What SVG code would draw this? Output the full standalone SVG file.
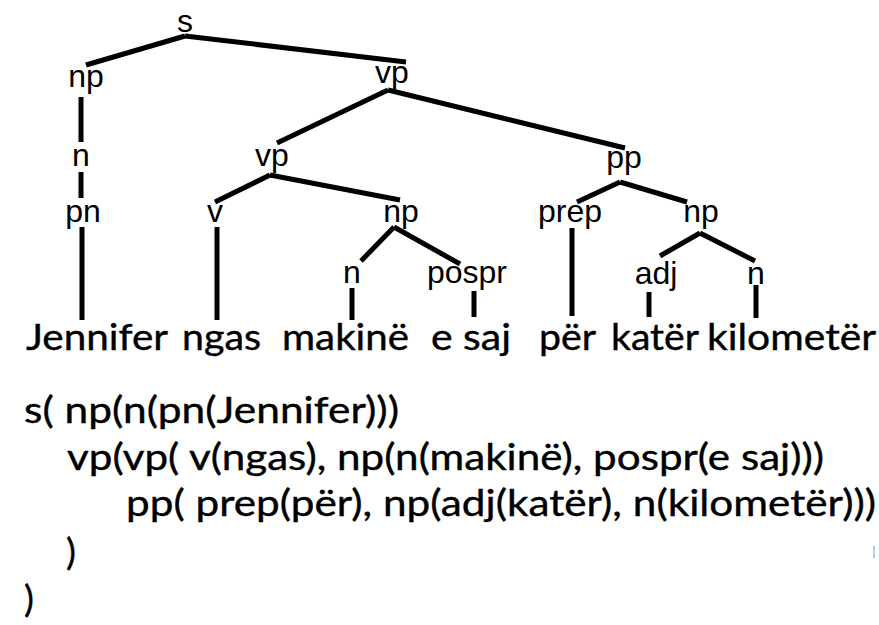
<svg xmlns="http://www.w3.org/2000/svg" width="879" height="625" viewBox="0 0 879 625">
  <style>
    .lbl { font-family: "Liberation Sans", Arial, sans-serif; font-size: 32px; fill: #000; text-anchor: middle; }
    .word { font-family: Lato, "Open Sans", sans-serif; font-size: 37px; fill: #000; stroke: #000; stroke-width: 0.4; }
    .code { font-family: Lato, "Open Sans", sans-serif; font-size: 37px; fill: #000; stroke: #000; stroke-width: 0.4; }
    .edge { stroke: #000; stroke-width: 5; fill: none; stroke-linecap: butt; }
  </style>
  <rect width="879" height="625" fill="#fff"/>

  <!-- tree edges -->
  <g id="connectors" class="edge">
    <line x1="185" y1="36" x2="86" y2="65"/>
    <line x1="185" y1="36" x2="406" y2="62"/>
    <line x1="388" y1="90" x2="277" y2="143"/>
    <line x1="388" y1="90" x2="625" y2="148"/>
    <line x1="81" y1="97" x2="81" y2="142"/>
    <line x1="81" y1="172" x2="81" y2="198"/>
    <line x1="270" y1="175" x2="215" y2="202"/>
    <line x1="270" y1="175" x2="400" y2="200"/>
    <line x1="82" y1="227" x2="82" y2="320"/>
    <line x1="217" y1="227" x2="217" y2="320"/>
    <line x1="394" y1="227" x2="361" y2="261"/>
    <line x1="394" y1="227" x2="460" y2="264"/>
    <line x1="352" y1="288" x2="352" y2="320"/>
    <line x1="474" y1="291" x2="474" y2="317"/>
    <line x1="620" y1="182" x2="577" y2="202"/>
    <line x1="620" y1="182" x2="687" y2="202"/>
    <line x1="572" y1="228" x2="572" y2="316"/>
    <line x1="700" y1="233" x2="660" y2="256"/>
    <line x1="700" y1="233" x2="755" y2="261"/>
    <line x1="649" y1="292" x2="649" y2="317"/>
    <line x1="756" y1="285" x2="756" y2="318"/>
  </g>

  <!-- category labels -->
  <g id="node-s"><text class="lbl" x="185" y="32">s</text></g>
  <g id="node-np1"><text class="lbl" x="86" y="87">np</text></g>
  <g id="node-vp1"><text class="lbl" x="392" y="83">vp</text></g>
  <g id="node-n1"><text class="lbl" x="81" y="166">n</text></g>
  <g id="node-vp2"><text class="lbl" x="272" y="166">vp</text></g>
  <g id="node-pp"><text class="lbl" x="624" y="168">pp</text></g>
  <g id="node-pn"><text class="lbl" x="83" y="222">pn</text></g>
  <g id="node-v"><text class="lbl" x="215" y="222">v</text></g>
  <g id="node-np2"><text class="lbl" x="401" y="222">np</text></g>
  <g id="node-prep"><text class="lbl" x="570" y="222">prep</text></g>
  <g id="node-np3"><text class="lbl" x="701" y="222">np</text></g>
  <g id="node-n2"><text class="lbl" x="352" y="283">n</text></g>
  <g id="node-pospr"><text class="lbl" x="467" y="283">pospr</text></g>
  <g id="node-adj"><text class="lbl" x="656" y="284">adj</text></g>
  <g id="node-n3"><text class="lbl" x="756" y="284">n</text></g>

  <!-- leaf words -->
  <g id="leaf-jennifer"><text class="word" x="26" y="350" textLength="142" lengthAdjust="spacingAndGlyphs">Jennifer</text></g>
  <g id="leaf-ngas"><text class="word" x="182" y="350" textLength="79" lengthAdjust="spacingAndGlyphs">ngas</text></g>
  <g id="leaf-makine"><text class="word" x="282" y="350" textLength="127" lengthAdjust="spacingAndGlyphs">makinë</text></g>
  <g id="leaf-esaj"><text class="word" x="431" y="350" textLength="80" lengthAdjust="spacingAndGlyphs">e saj</text></g>
  <g id="leaf-per"><text class="word" x="539" y="350" textLength="57" lengthAdjust="spacingAndGlyphs">për</text></g>
  <g id="leaf-kater"><text class="word" x="611" y="350" textLength="88" lengthAdjust="spacingAndGlyphs">katër</text></g>
  <g id="leaf-kilometer"><text class="word" x="707" y="350" textLength="169" lengthAdjust="spacingAndGlyphs">kilometër</text></g>

  <!-- bracketed notation -->
  <g id="bracket-form">
    <text class="code" x="24" y="423" textLength="375" lengthAdjust="spacingAndGlyphs">s( np(n(pn(Jennifer)))</text>
    <text class="code" x="67" y="470" textLength="757" lengthAdjust="spacingAndGlyphs">vp(vp( v(ngas), np(n(makinë), pospr(e saj)))</text>
    <text class="code" x="126" y="516" textLength="750" lengthAdjust="spacingAndGlyphs">pp( prep(për), np(adj(katër), n(kilometër)))</text>
    <text class="code" x="66" y="565">)</text>
    <text class="code" x="24" y="612">)</text>
  </g>

  <rect x="873" y="546" width="2" height="12" fill="#a9d1f5"/>
</svg>
